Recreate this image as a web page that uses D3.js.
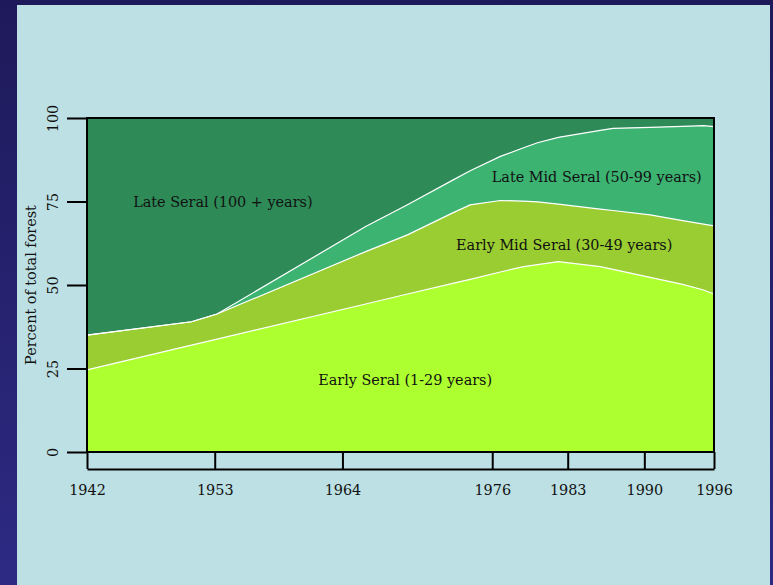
<!DOCTYPE html>
<html>
<head>
<meta charset="utf-8">
<script src="https://cdn.jsdelivr.net/npm/d3@7"></script>
<style>
  html, body { margin: 0; padding: 0; background: #bce0e3; }
  svg { display: block; }
</style>
</head>
<body>
<script>
// ---- data ----
const years = [1942, 1951, 1953.2, 1966, 1969.6, 1973.5, 1975, 1977.6, 1979.6, 1980.8, 1982.6, 1986.2, 1987.3, 1990.5, 1993.3, 1995.1, 1996];
const earlySeral    = [24.6, 32.0, 33.8, 44.3, 47.3, 50.5, 51.7, 53.9, 55.5, 56.1, 57.0, 55.5, 54.7, 52.3, 50.2, 48.5, 47.3];
const earlyMidSeral = [10.4,  7.0,  7.5, 15.7, 17.7, 21.1, 22.3, 21.4, 19.6, 18.8, 17.2, 17.2, 17.6, 18.7, 19.1, 19.7, 20.4];
const lateMidSeral  = [ 0.0,  0.0,  0.0,  7.5,  9.0,  9.8, 10.2, 13.2, 16.0, 17.7, 20.0, 23.6, 24.6, 26.2, 28.2, 29.5, 29.7];
const lateSeral     = [65.0, 61.0, 58.7, 32.5, 26.0, 18.6, 15.8, 11.5,  8.9,  7.4,  5.8,  3.7,  3.1,  2.8,  2.5,  2.3,  2.6];
const seriesNames   = ["Early Seral (1-29 years)", "Early Mid Seral (30-49 years)", "Late Mid Seral (50-99 years)", "Late Seral (100 + years)"];
const seriesColors  = ["#adff2f", "#9acd32", "#3cb371", "#2e8b57"];
const xTickYears    = [1942, 1953, 1964, 1976.9, 1983.4, 1990, 1996];
const xTickLabels   = ["1942", "1953", "1964", "1976", "1983", "1990", "1996"];
const yTicks        = [0, 25, 50, 75, 100];
const yTitle        = "Percent of total forest";
// label anchor positions in data units [year, percent]
const labelPos      = [[1969.4, 21.6], [1983.1, 61.9], [1985.9, 82.4], [1953.7, 74.9]];

// ---- layout ----
const W = 773, H = 585;
const plot = { left: 87, right: 714, top: 118, bottom: 452 };
const FONT = "DejaVu Serif";
const FS = 14.4;

const svg = d3.select("body").append("svg").attr("width", W).attr("height", H);
const defs = svg.append("defs");
const grad = defs.append("linearGradient").attr("id", "navy").attr("x1", 0).attr("y1", 0).attr("x2", 0).attr("y2", 1);
grad.append("stop").attr("offset", "0%").attr("stop-color", "#1e1a5a");
grad.append("stop").attr("offset", "100%").attr("stop-color", "#2d2a84");

// frame
svg.append("rect").attr("width", W).attr("height", H).attr("fill", "url(#navy)");
svg.append("rect").attr("x", 17).attr("y", 5).attr("width", 770 - 17).attr("height", H - 5).attr("fill", "#bce0e3");

const x = d3.scaleLinear().domain([1942, 1996]).range([plot.left, plot.right]);
const y = d3.scaleLinear().domain([0, 100]).range([plot.bottom, plot.top]);

const rows = years.map((yr, i) => ({
  year: yr,
  s0: earlySeral[i], s1: earlyMidSeral[i], s2: lateMidSeral[i], s3: lateSeral[i]
}));
const stack = d3.stack().keys(["s0", "s1", "s2", "s3"]);
const layers = stack(rows);

const area = d3.area()
  .x(d => x(d.data.year))
  .y0(d => y(d[0]))
  .y1(d => y(d[1]));

const g = svg.append("g");
g.selectAll("path.band").data(layers).join("path")
  .attr("class", "band")
  .attr("d", area)
  .attr("fill", (d, i) => seriesColors[i])
  .attr("stroke", "none");

// white boundary lines (tops of the lower three bands)
const topLine = d3.line().x(d => x(d.data.year)).y(d => y(d[1]));
g.selectAll("path.edge").data(layers.slice(0, 3)).join("path")
  .attr("class", "edge")
  .attr("d", topLine)
  .attr("fill", "none")
  .attr("stroke", "#ffffff")
  .attr("stroke-width", 1.2);

// plot box
svg.append("rect")
  .attr("x", plot.left).attr("y", plot.top)
  .attr("width", plot.right - plot.left).attr("height", plot.bottom - plot.top)
  .attr("fill", "none").attr("stroke", "#000").attr("stroke-width", 2);

// band labels
svg.append("g").selectAll("text").data(seriesNames).join("text")
  .attr("x", (d, i) => x(labelPos[i][0]))
  .attr("y", (d, i) => y(labelPos[i][1]))
  .attr("text-anchor", "middle")
  .attr("dominant-baseline", "central")
  .attr("font-family", FONT)
  .attr("font-size", FS)
  .attr("fill", "#111")
  .text(d => d);

// y axis
const yAxis = d3.axisLeft(y).tickValues(yTicks).tickSize(20).tickPadding(0).tickFormat(d3.format("d"));
const ya = svg.append("g").attr("transform", `translate(${plot.left},0)`).call(yAxis);
ya.select(".domain").remove();
ya.selectAll(".tick line").attr("stroke", "#000").attr("stroke-width", 2);
ya.selectAll(".tick text")
  .attr("x", null).attr("dy", null)
  .attr("transform", "translate(-34,0) rotate(-90)")
  .attr("text-anchor", "middle")
  .attr("dominant-baseline", "central")
  .attr("font-family", FONT)
  .attr("font-size", FS)
  .attr("fill", "#111");

svg.append("text")
  .attr("transform", `translate(31,${(plot.top + plot.bottom) / 2}) rotate(-90)`)
  .attr("text-anchor", "middle")
  .attr("dominant-baseline", "central")
  .attr("font-family", FONT)
  .attr("font-size", FS)
  .attr("fill", "#111")
  .text(yTitle);

// x axis (line below the plot, ticks pointing up to the plot)
const xAxis = d3.axisBottom(x).tickValues(xTickYears).tickSize(-17).tickSizeOuter(0)
  .tickFormat((d, i) => xTickLabels[i]);
const xa = svg.append("g").attr("transform", `translate(0,469)`).call(xAxis);
xa.select(".domain").attr("stroke", "#000").attr("stroke-width", 2);
xa.selectAll(".tick line").attr("stroke", "#000").attr("stroke-width", 2);
xa.selectAll(".tick text")
  .attr("y", 21).attr("dy", null)
  .attr("dominant-baseline", "central")
  .attr("font-family", FONT)
  .attr("font-size", FS)
  .attr("fill", "#111");
</script>
</body>
</html>
